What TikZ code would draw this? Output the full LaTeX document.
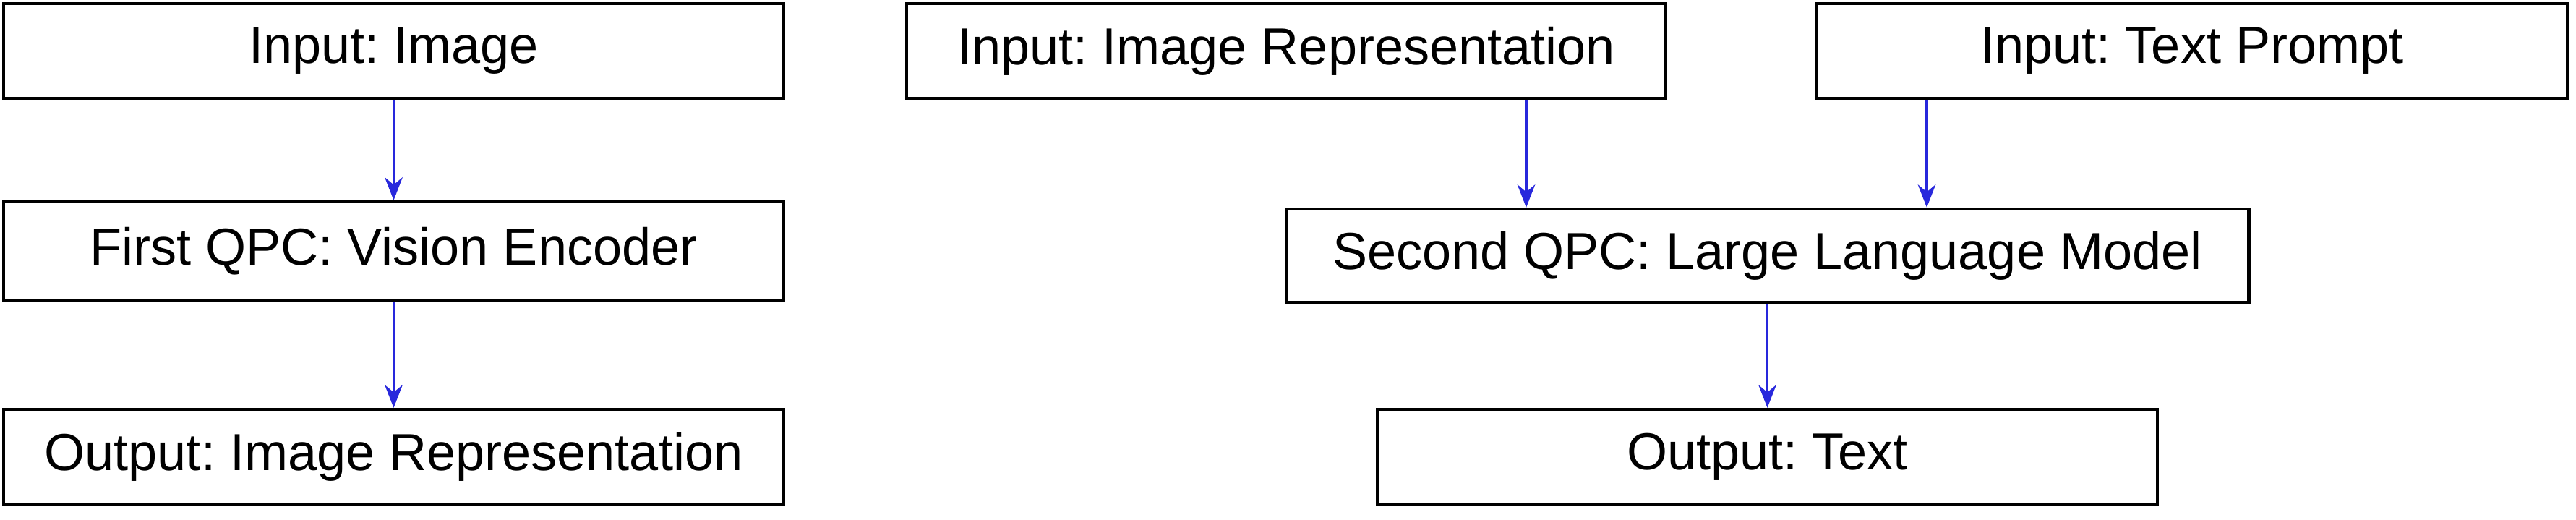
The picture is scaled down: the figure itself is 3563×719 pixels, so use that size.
\documentclass[tikz,border=0pt]{standalone}
\usepackage{fontspec}
\setmainfont{Liberation Sans}
\frenchspacing
\usetikzlibrary{arrows.meta}
\definecolor{arr}{RGB}{40,40,220}
\begin{document}
\begin{tikzpicture}[x=0.01cm,y=-0.01cm,
  box/.style={draw=black,line width=1.2pt,inner sep=0pt,font=\fontsize{20.5}{22}\selectfont},
  conn/.style={draw=arr,line width=0.9pt,-{Stealth[length=9pt,width=7pt]}}]
\useasboundingbox (0,0) rectangle (3563,719);
\node[box,minimum width=10.79cm,minimum height=1.31cm] (inimg) at (544.5,70.5) {Input: Image};
\node[box,minimum width=10.79cm,minimum height=1.37cm] (first) at (544.5,347.5) {First QPC: Vision Encoder};
\node[box,minimum width=10.79cm,minimum height=1.31cm] (outimg) at (544.5,631.5) {Output: Image Representation};
\node[box,minimum width=10.50cm,minimum height=1.31cm] (inrep) at (1779,70.5) {Input: Image Representation};
\node[box,minimum width=10.38cm,minimum height=1.31cm] (intxt) at (3032,70.5) {Input: Text Prompt};
\node[box,minimum width=13.31cm,minimum height=1.29cm] (second) at (2444.5,353.5) {Second QPC: Large Language Model};
\node[box,minimum width=10.79cm,minimum height=1.31cm] (outtxt) at (2444.5,631.5) {Output: Text};
\draw[conn] (inimg) -- (first);
\draw[conn] (first) -- (outimg);
\draw[conn] (inrep.south -| 2111,0) -- (second.north -| 2111,0);
\draw[conn] (intxt.south -| 2665,0) -- (second.north -| 2665,0);
\draw[conn] (second) -- (outtxt);
\end{tikzpicture}
\end{document}
